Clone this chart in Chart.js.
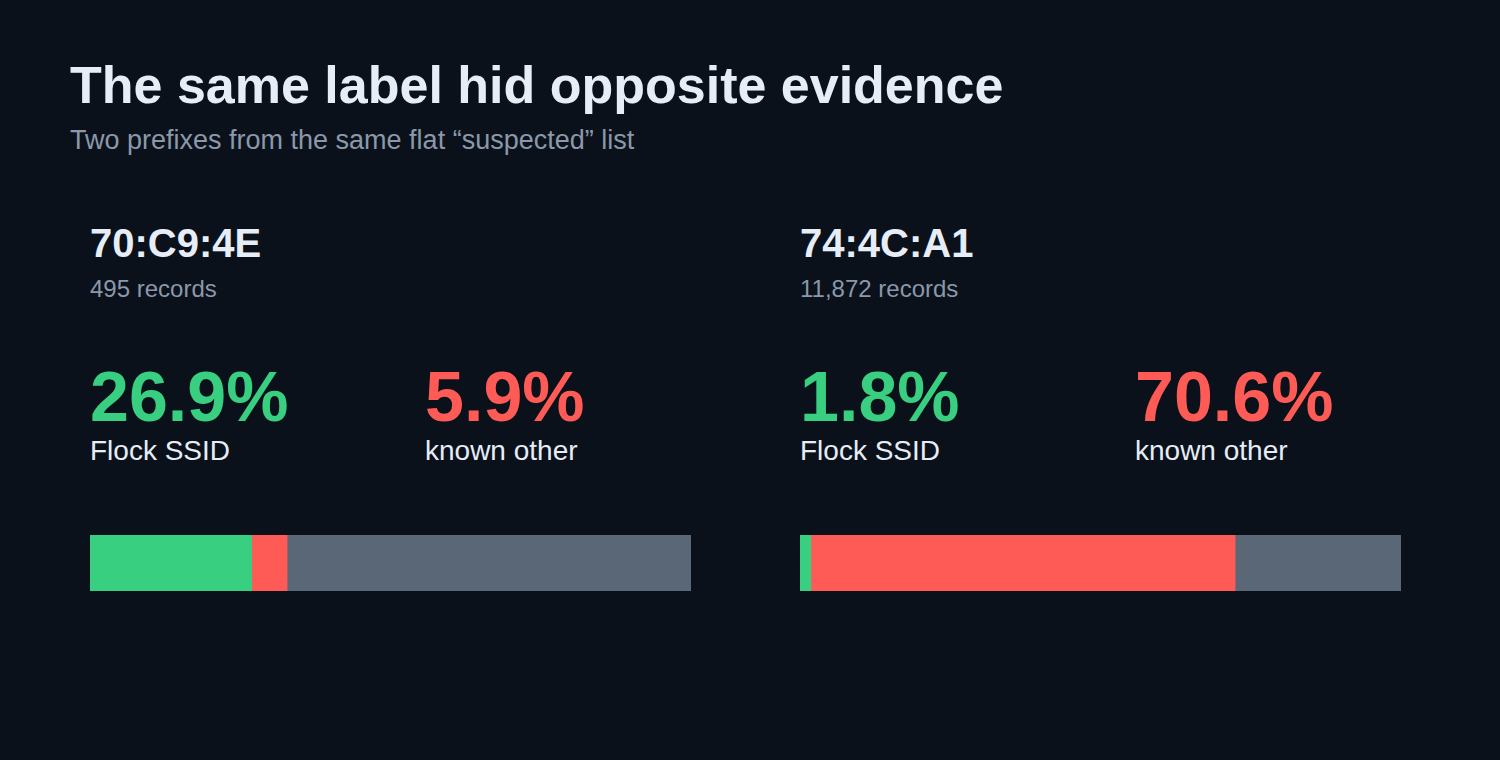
<!DOCTYPE html>
<html>
<head>
<meta charset="utf-8">
<script src="https://cdn.jsdelivr.net/npm/chart.js@4.4.1/dist/chart.umd.min.js"></script>
<style>
  html, body { margin: 0; padding: 0; background: #0a111b; }
  body { width: 1500px; height: 760px; position: relative; overflow: hidden;
         font-family: "Liberation Sans", Arial, sans-serif; }
  .t { position: absolute; white-space: nowrap; line-height: 1; }
  .title { left: 70px; top: 59px; font-size: 52px; font-weight: bold; color: #e6edf7; }
  .sub { left: 70px; top: 127px; font-size: 27px; color: #8b98a9; }
  .prefix { font-size: 40px; font-weight: bold; color: #e6edf7; }
  .recs { font-size: 24px; color: #8b98a9; }
  .big { font-size: 70px; font-weight: bold; }
  .lbl { font-size: 28px; color: #e6edf7; }
  .barbox { position: absolute; width: 601px; height: 56px; }
</style>
</head>
<body>
<div class="t title">The same label hid opposite evidence</div>
<div class="t sub">Two prefixes from the same flat “suspected” list</div>

<script>
// data
const prefixes = ['70:C9:4E', '74:4C:A1'];
const records = [495, 11872];
const flockPct = [26.9, 1.8];
const otherPct = [5.9, 70.6];
const restPct = [67.2, 27.6];
const seriesNames = ['Flock SSID', 'known other', 'unknown'];

const colGreen = '#38cf80';
const colRed = '#ff5b56';
const colGray = '#596777';

function addText(cls, text, left, top, color) {
    const d = document.createElement('div');
    d.className = 't ' + cls;
    d.textContent = text;
    d.style.left = left + 'px';
    d.style.top = top + 'px';
    if (color) d.style.color = color;
    document.body.appendChild(d);
}

prefixes.forEach((p, i) => {
    const x = 90 + i * 710;
    addText('prefix', p, x, 223);
    addText('recs', records[i].toLocaleString('en-US') + ' records', x, 277);
    addText('big', flockPct[i].toFixed(1) + '%', x, 362, colGreen);
    addText('big', otherPct[i].toFixed(1) + '%', x + 335, 362, colRed);
    addText('lbl', seriesNames[0], x, 437);
    addText('lbl', seriesNames[1], x + 335, 437);

    const box = document.createElement('div');
    box.className = 'barbox';
    box.style.left = x + 'px';
    box.style.top = '535px';
    const cv = document.createElement('canvas');
    box.appendChild(cv);
    document.body.appendChild(box);

    const vals = [flockPct[i], otherPct[i], restPct[i]];
    const cols = [colGreen, colRed, colGray];
    new Chart(cv, {
        type: 'bar',
        data: {
            labels: [p],
            datasets: vals.map((v, k) => ({
                label: seriesNames[k],
                data: [v],
                backgroundColor: cols[k],
                borderWidth: 0,
                barPercentage: 1,
                categoryPercentage: 1
            }))
        },
        options: {
            indexAxis: 'y',
            responsive: true,
            maintainAspectRatio: false,
            animation: false,
            layout: { padding: 0 },
            plugins: { legend: { display: false }, tooltip: { enabled: false } },
            scales: {
                x: { stacked: true, min: 0, max: 100, display: false },
                y: { stacked: true, display: false }
            }
        }
    });
});
</script>
</body>
</html>
